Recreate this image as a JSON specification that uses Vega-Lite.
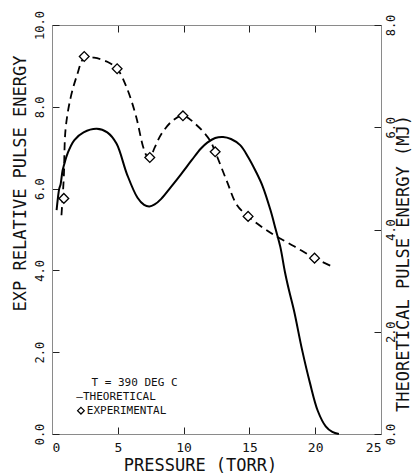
{
  "$schema": "https://vega.github.io/schema/vega-lite/v6.json",
  "width": 329,
  "height": 409,
  "autosize": {"type": "none"},
  "padding": {"left": 52, "top": 25, "right": 32, "bottom": 41},
  "background": "white",
  "config": {
    "view": {"stroke": "#8a8a8a", "strokeWidth": 1},
    "axis": {
      "grid": false,
      "domainColor": "#8a8a8a",
      "tickColor": "#222",
      "tickWidth": 1,
      "labelFont": "DejaVu Sans Mono",
      "labelFontSize": 12,
      "labelColor": "#111",
      "titleFont": "DejaVu Sans Mono",
      "titleFontSize": 17,
      "titleFontWeight": "normal",
      "titleColor": "#111"
    }
  },
  "datasets": {
    "theo": [
      {"p": 0.35, "e": 4.38}, {"p": 0.45, "e": 4.62}, {"p": 0.55, "e": 4.8}, {"p": 0.65, "e": 4.88},
      {"p": 0.8, "e": 5.15}, {"p": 0.9, "e": 5.25}, {"p": 1.2, "e": 5.5}, {"p": 1.7, "e": 5.75},
      {"p": 2.4, "e": 5.9}, {"p": 3.4, "e": 5.97}, {"p": 4.2, "e": 5.9}, {"p": 4.9, "e": 5.68},
      {"p": 5.7, "e": 5.08}, {"p": 6.5, "e": 4.62}, {"p": 7.0, "e": 4.48}, {"p": 7.4, "e": 4.45},
      {"p": 7.8, "e": 4.49}, {"p": 8.3, "e": 4.6}, {"p": 9.0, "e": 4.82}, {"p": 9.8, "e": 5.08},
      {"p": 10.6, "e": 5.35}, {"p": 11.3, "e": 5.58}, {"p": 11.8, "e": 5.7}, {"p": 12.4, "e": 5.79},
      {"p": 13.0, "e": 5.81}, {"p": 13.6, "e": 5.77}, {"p": 14.3, "e": 5.65}, {"p": 14.9, "e": 5.42},
      {"p": 15.5, "e": 5.13}, {"p": 16.0, "e": 4.85}, {"p": 16.6, "e": 4.38}, {"p": 17.0, "e": 4.0},
      {"p": 17.35, "e": 3.66}, {"p": 17.7, "e": 3.17}, {"p": 18.0, "e": 2.82}, {"p": 18.4, "e": 2.4},
      {"p": 19.0, "e": 1.65}, {"p": 19.6, "e": 1.0}, {"p": 20.2, "e": 0.45}, {"p": 20.8, "e": 0.15},
      {"p": 21.3, "e": 0.04}, {"p": 21.8, "e": 0.0}
    ],
    "expcurve": [
      {"p": 0.72, "e": 5.35}, {"p": 0.76, "e": 5.55}, {"p": 0.82, "e": 5.85}, {"p": 0.9, "e": 6.3},
      {"p": 1.03, "e": 7.45}, {"p": 1.4, "e": 8.2}, {"p": 1.9, "e": 8.77}, {"p": 2.45, "e": 9.2},
      {"p": 3.2, "e": 9.2}, {"p": 4.2, "e": 9.1}, {"p": 4.95, "e": 8.93}, {"p": 5.7, "e": 8.45},
      {"p": 6.4, "e": 7.75}, {"p": 6.9, "e": 7.05}, {"p": 7.2, "e": 6.8}, {"p": 7.43, "e": 6.76},
      {"p": 7.8, "e": 7.0}, {"p": 8.3, "e": 7.33}, {"p": 9.2, "e": 7.67}, {"p": 9.95, "e": 7.78},
      {"p": 11.0, "e": 7.55}, {"p": 12.0, "e": 7.18}, {"p": 12.4, "e": 6.9}, {"p": 13.3, "e": 6.17},
      {"p": 14.05, "e": 5.6}, {"p": 14.9, "e": 5.32}, {"p": 16.0, "e": 5.05}, {"p": 16.85, "e": 4.87},
      {"p": 18.4, "e": 4.59}, {"p": 19.95, "e": 4.3}, {"p": 21.4, "e": 4.08}
    ],
    "exp": [
      {"p": 0.9, "e": 5.76}, {"p": 2.45, "e": 9.23}, {"p": 4.95, "e": 8.93}, {"p": 7.43, "e": 6.76},
      {"p": 9.95, "e": 7.78}, {"p": 12.4, "e": 6.9}, {"p": 14.9, "e": 5.32}, {"p": 19.95, "e": 4.3}
    ],
    "legend": [
      {"p": 3.0, "e": 1.24, "t": "T = 390 DEG C"},
      {"p": 1.85, "e": 0.9, "t": "—THEORETICAL"},
      {"p": 2.65, "e": 0.57, "t": "EXPERIMENTAL"}
    ],
    "legendsym": [{"p": 2.2, "e": 0.57}]
  },
  "layer": [
    {
      "data": {"name": "expcurve"},
      "mark": {"type": "line", "color": "black", "strokeWidth": 1.8, "strokeDash": [8, 5], "interpolate": "catmull-rom"},
      "encoding": {
        "x": {"field": "p", "type": "quantitative",
          "scale": {"domain": [0, 25], "nice": false, "zero": false},
          "axis": {"orient": "bottom", "values": [0, 5, 10, 15, 20, 25], "tickSize": -7, "labelPadding": 14, "labelFontSize": 13,
            "title": "PRESSURE (TORR)", "titleX": 148, "titleY": 31, "titleAlign": "center", "titleBaseline": "middle"}},
        "y": {"field": "e", "type": "quantitative",
          "scale": {"domain": [0, 10], "nice": false, "zero": false},
          "axis": {"orient": "left", "values": [0, 2, 4, 6, 8, 10], "format": ".1f", "tickSize": -7, "labelPadding": 13,
            "labelAngle": 270, "labelAlign": "center", "labelBaseline": "bottom",
            "title": "EXP RELATIVE PULSE ENERGY", "titleAngle": 270, "titleX": -32, "titleY": 158, "titleAlign": "center", "titleBaseline": "middle"}}
      }
    },
    {
      "data": {"name": "exp"},
      "mark": {"type": "point", "shape": "diamond", "filled": true, "fill": "white", "stroke": "black", "strokeWidth": 1.3, "size": 95, "opacity": 1},
      "encoding": {
        "x": {"field": "p", "type": "quantitative",
          "scale": {"domain": [0, 25], "nice": false, "zero": false},
          "axis": {"orient": "top", "values": [0, 5, 10, 15, 20, 25], "tickSize": -7, "labels": false, "title": null}},
        "y": {"field": "e", "type": "quantitative", "scale": {"domain": [0, 10], "nice": false, "zero": false}, "axis": null}
      }
    },
    {
      "data": {"name": "theo"},
      "mark": {"type": "line", "color": "black", "strokeWidth": 2, "interpolate": "catmull-rom"},
      "encoding": {
        "x": {"field": "p", "type": "quantitative", "scale": {"domain": [0, 25], "nice": false, "zero": false}, "axis": null},
        "y": {"field": "e", "type": "quantitative",
          "scale": {"domain": [0, 8], "nice": false, "zero": false},
          "axis": {"orient": "right", "values": [0, 2, 4, 6, 8], "format": ".1f", "tickSize": -7, "labelPadding": 11,
            "labelAngle": 270, "labelAlign": "center", "labelBaseline": "top",
            "title": "THEORETICAL PULSE ENERGY (MJ)", "titleAngle": 270, "titleX": 22, "titleY": 238, "titleAlign": "center", "titleBaseline": "middle"}}
      }
    },
    {
      "data": {"name": "legend"},
      "mark": {"type": "text", "align": "left", "baseline": "middle", "font": "DejaVu Sans Mono", "fontSize": 11, "color": "#111"},
      "encoding": {
        "x": {"field": "p", "type": "quantitative", "scale": {"domain": [0, 25], "nice": false, "zero": false}, "axis": null},
        "y": {"field": "e", "type": "quantitative", "scale": {"domain": [0, 10], "nice": false, "zero": false}, "axis": null},
        "text": {"field": "t"}
      }
    },
    {
      "data": {"name": "legendsym"},
      "mark": {"type": "point", "shape": "diamond", "filled": true, "fill": "white", "stroke": "black", "strokeWidth": 1.2, "size": 45, "opacity": 1},
      "encoding": {
        "x": {"field": "p", "type": "quantitative", "scale": {"domain": [0, 25], "nice": false, "zero": false}, "axis": null},
        "y": {"field": "e", "type": "quantitative", "scale": {"domain": [0, 10], "nice": false, "zero": false}, "axis": null}
      }
    }
  ],
  "resolve": {"scale": {"y": "independent"}, "axis": {"x": "independent", "y": "independent"}}
}
